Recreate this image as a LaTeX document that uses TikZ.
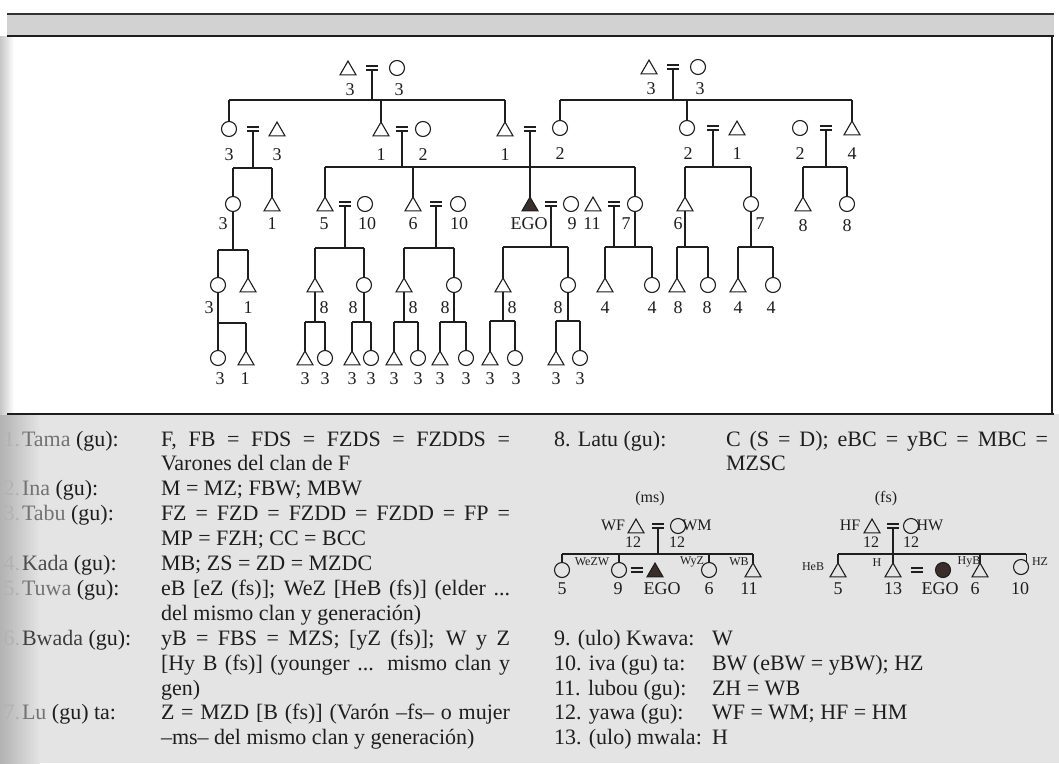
\documentclass[tikz,border=0pt]{standalone}
\usepackage{fontspec}
\setmainfont{Liberation Serif}
\usetikzlibrary{shapes.geometric}
\definecolor{ink}{HTML}{1E1E1E}
\definecolor{egofill}{HTML}{3A2E2B}
\definecolor{paper}{HTML}{E4E4E4}
\definecolor{bandgray}{HTML}{D2D2D2}
\newcounter{lbl}
\newcommand\lab[4][lab]{\stepcounter{lbl}\node[#1] (lab\arabic{lbl}) at (#2,#3) {#4};}
\newcommand\kidline[2]{\draw[ln] (#1.north) -- (#1.north |- #2);}
\newcommand\descline[2]{\draw[ln] (#1.south) -- (#1.south |- #2);}
\newcommand\sibline[3]{\draw[ln] (#2.north |- #1) -- (#3.north |- #1);}
\newcommand\marline[2]{\draw[ln] ([yshift=-2pt]#1) -- (#2);}
\tikzset{
 tri/.style={regular polygon, regular polygon sides=3, draw=ink, line width=1.1pt, minimum size=18.5pt, inner sep=0pt, outer sep=0pt, yshift=-2.3pt},
 egotri/.style={tri, fill=egofill},
 circ/.style={circle, draw=ink, line width=1.1pt, minimum size=15pt, inner sep=0pt, outer sep=0pt},
 egocirc/.style={circ, fill=egofill},
 lab/.style={font=\fontsize{18}{18}\selectfont, inner sep=0pt, text=ink},
 slab/.style={font=\fontsize{16}{16}\selectfont, inner sep=0pt, text=ink},
 tlab/.style={font=\fontsize{12}{12}\selectfont, inner sep=0pt, text=ink},
 ln/.style={draw=ink, line width=1.1pt},
 marry/.pic={\draw[ln] (-6,-2)--(6,-2) (-6,2)--(6,2);},
 txt/.style={font=\fontsize{22}{25}\selectfont, inner sep=0pt, outer sep=0pt, text=ink, anchor=base west},
 num/.style={txt, anchor=base east, text=black!30},
}
\begin{document}
\begin{tikzpicture}[x=1pt,y=-1pt]
\useasboundingbox (0,0) rectangle (1059,763);
% backgrounds
\fill[white] (0,0) rectangle (1059,763);
\fill[paper] (0,414) rectangle (1059,763);
\shade[left color=gray!60, right color=paper] (0,414) rectangle (40,763);
\shade[left color=gray!45, right color=white] (0,36) rectangle (14,414);
\fill[bandgray] (7,14) rectangle (1054,36);
\draw[line width=1.5pt, gray!40!black] (7,14) -- (1054,14);
\draw[line width=2.2pt, ink] (7,36) -- (1054,36);
\draw[line width=2pt, ink] (7,414) -- (1054,414);
\draw[line width=1.4pt, ink] (1052,36) -- (1052,414);

% ---------- Row 1
\node[tri] (a1) at (348,68) {};
\node[circ] (a2) at (397,68) {};
\coordinate (ma) at (372,68);
\node[tri] (c1) at (649,67) {};
\node[circ] (c2) at (698,67) {};
\coordinate (mc) at (673,67);
\lab{350}{90}{3}\lab{399}{90}{3}\lab{651}{89}{3}\lab{700}{89}{3}
% ---------- Row 2
\node[circ] (b1) at (229,129) {};
\node[tri] (b2) at (277,129) {};
\coordinate (mb1) at (253,129);
\node[tri] (b3) at (381,129) {};
\node[circ] (b4) at (423,129) {};
\coordinate (mb3) at (402,129);
\node[tri] (b5) at (505,129) {};
\node[circ] (b6) at (560,128) {};
\coordinate (mb5) at (530,129);
\node[circ] (b7) at (687,128) {};
\node[tri] (b8) at (737,128) {};
\coordinate (mb7) at (713,128);
\node[circ] (b9) at (800,128) {};
\node[tri] (b10) at (852,128) {};
\coordinate (mb9) at (826,128);
\lab{229}{155}{3}\lab{277}{155}{3}\lab{381}{155}{1}\lab{423}{155}{2}
\lab{505}{155}{1}\lab{560}{154}{2}\lab{688}{154}{2}\lab{737}{154}{1}
\lab{800}{154}{2}\lab{852}{154}{4}
% ---------- Row 3
\node[circ] (d1) at (233,204) {};
\node[tri] (d2) at (272,204) {};
\node[tri] (g1) at (325,204) {};
\node[circ] (g2) at (365,204) {};
\coordinate (mg1) at (345,204);
\node[tri] (g3) at (413,204) {};
\node[circ] (g4) at (458,204) {};
\coordinate (mg3) at (436,204);
\node[egotri] (ego) at (530,204) {};
\node[circ] (g5) at (571,204) {};
\coordinate (mg5) at (551,204);
\node[tri] (g6) at (593,204) {};
\node[circ] (g7) at (635,204) {};
\coordinate (mg6) at (614,204);
\node[tri] (e1) at (685,204) {};
\node[circ] (e2) at (751,204) {};
\node[tri] (f1) at (803,204) {};
\node[circ] (f2) at (847,204) {};
\lab{223}{224}{3}\lab{272}{224}{1}\lab{324}{224}{5}\lab{367}{224}{10}
\lab{413}{224}{6}\lab{459}{224}{10}\lab{529}{224}{EGO}\lab{572}{224}{9}
\lab{592}{224}{11}\lab{626}{224}{7}\lab{678}{224}{6}\lab{760}{224}{7}
\lab{803}{226}{8}\lab{847}{226}{8}
% ---------- Row 4
\node[circ] (h1) at (218,285) {};
\node[tri] (h2) at (248,285) {};
\node[tri] (h3) at (315,285) {};
\node[circ] (h4) at (364,285) {};
\node[tri] (h5) at (404,285) {};
\node[circ] (h6) at (454,285) {};
\node[tri] (h7) at (503,285) {};
\node[circ] (h8) at (568,285) {};
\node[tri] (h9) at (605,285) {};
\node[circ] (h10) at (652,285) {};
\node[tri] (h11) at (677,285) {};
\node[circ] (h12) at (708,285) {};
\node[tri] (h13) at (738,285) {};
\node[circ] (h14) at (773,285) {};
\lab{209}{308}{3}\lab{248}{308}{1}\lab{324}{308}{8}\lab{353}{308}{8}
\lab{413}{308}{8}\lab{445}{308}{8}\lab{512}{308}{8}\lab{558}{308}{8}
\lab{605}{308}{4}\lab{652}{308}{4}\lab{678}{308}{8}\lab{707}{308}{8}
\lab{738}{308}{4}\lab{771}{308}{4}
% ---------- Row 5
\node[circ] (i1) at (218,358) {};
\node[tri] (i2) at (246,358) {};
\node[tri] (i3) at (305,358) {};
\node[circ] (i4) at (325,358) {};
\node[tri] (i5) at (352,358) {};
\node[circ] (i6) at (371,358) {};
\node[tri] (i7) at (394,358) {};
\node[circ] (i8) at (418,358) {};
\node[tri] (i9) at (440,358) {};
\node[circ] (i10) at (466,358) {};
\node[tri] (i11) at (490,358) {};
\node[circ] (i12) at (515,358) {};
\node[tri] (i13) at (556,358) {};
\node[circ] (i14) at (580,358) {};
\lab{220}{379}{3}\lab{245}{379}{1}
\lab{305}{379}{3}\lab{325}{379}{3}\lab{352}{379}{3}\lab{371}{379}{3}
\lab{394}{379}{3}\lab{418}{379}{3}\lab{440}{379}{3}\lab{466}{379}{3}
\lab{490}{379}{3}\lab{516}{379}{3}\lab{556}{379}{3}\lab{580}{379}{3}

% ---------- marriages
\foreach \m in {ma,mc,mb1,mb3,mb5,mb7,mb9,mg1,mg3,mg5,mg6}{\pic at (\m) {marry};}
% junctions
\coordinate (ja) at (372,100);
\coordinate (jc) at (673,100);
\coordinate (jb1) at (253,168);
\coordinate (jb3) at (402,167);
\coordinate (jb7) at (713,167);
\coordinate (jb9) at (826,167);
\coordinate (jg1) at (345,248);
\coordinate (jg3) at (436,248);
\coordinate (jg5) at (551,247);
\coordinate (jg6) at (614,247);
\coordinate (jd1) at (233,250);
\coordinate (je1) at (685,247);
\coordinate (je2) at (751,247);
\coordinate (jh1) at (218,323);
\coordinate (jh3) at (315,322);
\coordinate (jh4) at (364,322);
\coordinate (jh5) at (404,322);
\coordinate (jh6) at (454,322);
\coordinate (jh7) at (503,321);
\coordinate (jh8) at (568,321);

% top left family
\marline{ma}{ja}
\sibline{ja}{b1}{b5}
\kidline{b1}{ja}\kidline{b3}{ja}\kidline{b5}{ja}
% top right family
\marline{mc}{jc}
\sibline{jc}{b6}{b10}
\kidline{b6}{jc}\kidline{b7}{jc}\kidline{b10}{jc}
% row 2 families
\marline{mb1}{jb1}
\sibline{jb1}{d1}{d2}
\kidline{d1}{jb1}\kidline{d2}{jb1}
\marline{mb3}{jb3}
\sibline{jb3}{g1}{g7}
\kidline{g1}{jb3}\kidline{g3}{jb3}\kidline{g7}{jb3}
\marline{mb5}{ego.north}
\marline{mb7}{jb7}
\sibline{jb7}{e1}{e2}
\kidline{e1}{jb7}\kidline{e2}{jb7}
\marline{mb9}{jb9}
\sibline{jb9}{f1}{f2}
\kidline{f1}{jb9}\kidline{f2}{jb9}
% row 3 families
\descline{d1}{jd1}
\sibline{jd1}{h1}{h2}
\kidline{h1}{jd1}\kidline{h2}{jd1}
\marline{mg1}{jg1}
\sibline{jg1}{h3}{h4}
\kidline{h3}{jg1}\kidline{h4}{jg1}
\marline{mg3}{jg3}
\sibline{jg3}{h5}{h6}
\kidline{h5}{jg3}\kidline{h6}{jg3}
\marline{mg5}{jg5}
\sibline{jg5}{h7}{h8}
\kidline{h7}{jg5}\kidline{h8}{jg5}
\marline{mg6}{jg6}
\descline{g7}{jg6}
\sibline{jg6}{h9}{h10}
\kidline{h9}{jg6}\kidline{h10}{jg6}
\descline{e1}{je1}
\sibline{je1}{h11}{h12}
\kidline{h11}{je1}\kidline{h12}{je1}
\descline{e2}{je2}
\sibline{je2}{h13}{h14}
\kidline{h13}{je2}\kidline{h14}{je2}
% row 4 families
\descline{h1}{jh1}\sibline{jh1}{i1}{i2}\kidline{i1}{jh1}\kidline{i2}{jh1}
\descline{h3}{jh3}\sibline{jh3}{i3}{i4}\kidline{i3}{jh3}\kidline{i4}{jh3}
\descline{h4}{jh4}\sibline{jh4}{i5}{i6}\kidline{i5}{jh4}\kidline{i6}{jh4}
\descline{h5}{jh5}\sibline{jh5}{i7}{i8}\kidline{i7}{jh5}\kidline{i8}{jh5}
\descline{h6}{jh6}\sibline{jh6}{i9}{i10}\kidline{i9}{jh6}\kidline{i10}{jh6}
\descline{h7}{jh7}\sibline{jh7}{i11}{i12}\kidline{i11}{jh7}\kidline{i12}{jh7}
\descline{h8}{jh8}\sibline{jh8}{i13}{i14}\kidline{i13}{jh8}\kidline{i14}{jh8}

% ---------- legend, left column (baselines 446 + 24.9 k)
\node[num] (n1) at (20,446) {1.};
\node[num] (n2) at (20,495.8) {2.};
\node[num] (n3) at (20,520.7) {3.};
\node[num] (n4) at (20,570.5) {4.};
\node[num] (n5) at (20,595.4) {5.};
\node[num] (n6) at (20,645.2) {6.};
\node[num] (n7) at (20,719.9) {7.};
\node[txt] (k1) at (22,446) {\textcolor{black!55}{Tama} (gu):};
\node[txt] (k2) at (22,495.8) {\textcolor{black!55}{Ina} (gu):};
\node[txt] (k3) at (22,520.7) {\textcolor{black!55}{Tabu} (gu):};
\node[txt] (k4) at (22,570.5) {\textcolor{black!70}{Kada} (gu):};
\node[txt] (k5) at (22,595.4) {\textcolor{black!55}{Tuwa} (gu):};
\node[txt] (k6) at (22,645.2) {\textcolor{black!75}{Bwada} (gu):};
\node[txt] (k7) at (22,719.9) {\textcolor{black!55}{Lu} (gu) ta:};
\node[txt] (d1t) at (161,446) {\makebox[349pt][s]{F, FB = FDS = FZDS = FZDDS =}};
\node[txt] (d2t) at (161,470.9) {Varones del clan de F};
\node[txt] (d3t) at (161,495.8) {M = MZ; FBW; MBW};
\node[txt] (d4t) at (161,520.7) {\makebox[349pt][s]{FZ = FZD = FZDD = FZDD = FP =}};
\node[txt] (d5t) at (161,545.6) {MP = FZH; CC = BCC};
\node[txt] (d6t) at (161,570.5) {MB; ZS = ZD = MZDC};
\node[txt] (d7t) at (161,595.4) {\makebox[349pt][s]{eB [eZ (fs)]; WeZ [HeB (fs)] (elder ...}};
\node[txt] (d8t) at (161,620.3) {del mismo clan y generación)};
\node[txt] (d9t) at (161,645.2) {\makebox[349pt][s]{yB = FBS = MZS; [yZ (fs)]; W y Z}};
\node[txt] (d10t) at (161,670.1) {\makebox[349pt][s]{[Hy B (fs)] (younger ... mismo clan y}};
\node[txt] (d11t) at (161,695) {gen)};
\node[txt] (d12t) at (161,719.9) {\makebox[349pt][s]{Z = MZD [B (fs)] (Varón –fs– o mujer}};
\node[txt] (d13t) at (161,744.8) {–ms– del mismo clan y generación)};

% ---------- legend, right column
\node[txt] (k8) at (554,446) {8. Latu (gu):};
\node[txt] (d14t) at (726,446) {\makebox[322pt][s]{C (S = D); eBC = yBC = MBC =}};
\node[txt] (d15t) at (726,470.9) {MZSC};
\node[txt] (k9) at (554,645.2) {9. (ulo) Kwava:};
\node[txt] (k10) at (554,670.1) {10. iva (gu) ta:};
\node[txt] (k11) at (554,695) {11. lubou (gu):};
\node[txt] (k12) at (554,719.9) {12. yawa (gu):};
\node[txt] (k13) at (554,744.8) {13. (ulo) mwala:};
\node[txt] (d16t) at (712,645.2) {W};
\node[txt] (d17t) at (712,670.1) {BW (eBW = yBW); HZ};
\node[txt] (d18t) at (712,695) {ZH = WB};
\node[txt] (d19t) at (712,719.9) {WF = WM; HF = HM};
\node[txt] (d20t) at (712,744.8) {H};

% ---------- small diagram (ms)
\node[tri] (p1) at (636,526) {};
\node[circ] (p2) at (678,526) {};
\coordinate (mp) at (658,526);
\coordinate (jp) at (658,554);
\node[circ] (q1) at (562,570) {};
\node[circ] (q2) at (619,570) {};
\node[egotri] (q3) at (655,570) {};
\node[circ] (q4) at (709,570) {};
\node[tri] (q5) at (753,570) {};
\coordinate (mq) at (637,570);
\pic at (mp) {marry};
\pic at (mq) {marry};
\marline{mp}{jp}
\sibline{jp}{q1}{q5}
\kidline{q1}{jp}\kidline{q2}{jp}\kidline{q4}{jp}\kidline{q5}{jp}
\lab[slab]{650}{499}{(ms)}
\lab[slab]{613}{525}{WF}\lab[slab]{697}{525}{WM}
\lab[slab]{633}{542}{12}\lab[slab]{677}{542}{12}
\lab[tlab]{592}{562}{WeZW}\lab[tlab]{692}{562}{WyZ}\lab[tlab]{739}{562}{WB}
\lab{562}{589}{5}\lab{618}{589}{9}\lab{662}{589}{EGO}\lab{709}{589}{6}\lab{749}{589}{11}

% ---------- small diagram (fs)
\node[tri] (r1) at (872,526) {};
\node[circ] (r2) at (911,526) {};
\coordinate (mr) at (893,526);
\coordinate (jr) at (893,554);
\node[tri] (s1) at (838,570) {};
\node[tri] (s2) at (893,570) {};
\node[egocirc] (s3) at (943,570) {};
\node[tri] (s4) at (980,570) {};
\node[circ] (s5) at (1021,567) {};
\coordinate (ms) at (917,570);
\pic at (mr) {marry};
\pic at (ms) {marry};
\marline{mr}{jr}
\draw[ln] (s1.north |- jr) -- (s5.north east |- jr);
\kidline{s1}{jr}\kidline{s2}{jr}\kidline{s4}{jr}
\draw[ln] (s5.north east) -- (s5.north east |- jr);
\lab[slab]{886}{499}{(fs)}
\lab[slab]{850}{525}{HF}\lab[slab]{930}{525}{HW}
\lab[slab]{871}{542}{12}\lab[slab]{911}{542}{12}
\lab[tlab]{813}{567}{HeB}\lab[tlab]{877}{563}{H}\lab[tlab]{969}{562}{HyB}\lab[tlab]{1040}{562}{HZ}
\lab{838}{589}{5}\lab{893}{589}{13}\lab{940}{589}{EGO}\lab{975}{589}{6}\lab{1020}{589}{10}
\end{tikzpicture}
\end{document}
